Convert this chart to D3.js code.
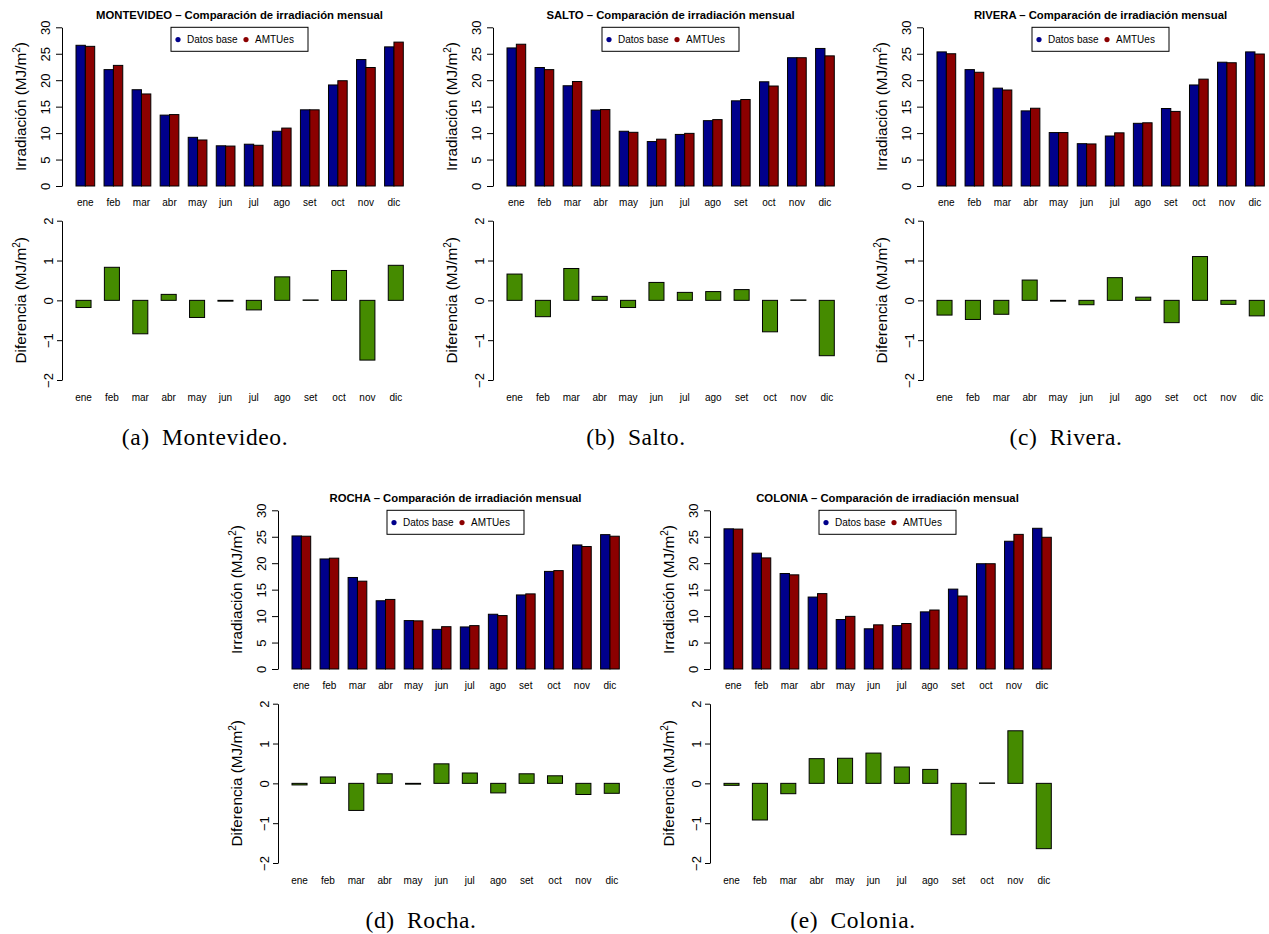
<!DOCTYPE html>
<html>
<head>
<meta charset="utf-8">
<script src="https://cdn.jsdelivr.net/npm/d3@7"></script>
<style>
  body { margin: 0; background: #fff; }
  text { font-family: "Liberation Sans", Arial, Helvetica, sans-serif; fill: #000; }
  .caption { font-family: "Liberation Serif", "DejaVu Serif", serif; font-size: 23.5px; letter-spacing: 0.6px; }
</style>
</head>
<body>
<div id="chart"></div>
<script>
// months and series (MJ/m2)
var months = ["ene", "feb", "mar", "abr", "may", "jun", "jul", "ago", "set", "oct", "nov", "dic"];
var seriesNames = ["Datos base", "AMTUes"];
var yTicksTop = [0, 5, 10, 15, 20, 25, 30];
var yTicksDiff = [-2, -1, 0, 1, 2];

var baseMontevideo = [26.6, 22.0, 18.2, 13.4, 9.2, 7.6, 7.9, 10.35, 14.4, 19.1, 23.9, 26.3];
var amtuMontevideo = [26.4, 22.8, 17.4, 13.5, 8.7, 7.55, 7.7, 10.95, 14.4, 19.9, 22.4, 27.2];
var diffMontevideo = [-0.18, 0.83, -0.84, 0.15, -0.43, -0.02, -0.24, 0.59, 0.01, 0.75, -1.5, 0.88];

var baseSalto = [26.1, 22.4, 18.95, 14.35, 10.35, 8.4, 9.75, 12.35, 16.1, 19.7, 24.25, 26.0];
var amtuSalto = [26.8, 22.0, 19.75, 14.45, 10.15, 8.85, 9.95, 12.55, 16.35, 18.9, 24.25, 24.6];
var diffSalto = [0.66, -0.41, 0.80, 0.10, -0.18, 0.45, 0.20, 0.22, 0.27, -0.79, 0.01, -1.39];

var baseRivera = [25.35, 22.0, 18.5, 14.2, 10.1, 8.0, 9.45, 11.85, 14.65, 19.1, 23.4, 25.35];
var amtuRivera = [25.0, 21.5, 18.15, 14.7, 10.1, 7.95, 10.05, 11.95, 14.1, 20.2, 23.3, 24.95];
var diffRivera = [-0.37, -0.48, -0.35, 0.51, -0.02, -0.11, 0.57, 0.08, -0.56, 1.10, -0.10, -0.39];

var baseRocha = [25.15, 20.8, 17.3, 12.9, 9.15, 7.5, 7.95, 10.35, 14.0, 18.45, 23.45, 25.4];
var amtuRocha = [25.1, 20.95, 16.6, 13.15, 9.1, 8.0, 8.2, 10.1, 14.2, 18.6, 23.15, 25.1];
var diffRocha = [-0.04, 0.16, -0.68, 0.24, -0.02, 0.49, 0.26, -0.24, 0.24, 0.19, -0.28, -0.25];

var baseColonia = [26.5, 21.9, 18.05, 13.6, 9.35, 7.6, 8.2, 10.8, 15.1, 19.9, 24.15, 26.6];
var amtuColonia = [26.45, 21.0, 17.8, 14.25, 9.95, 8.35, 8.6, 11.15, 13.8, 19.9, 25.45, 24.9];
var diffColonia = [-0.05, -0.92, -0.26, 0.62, 0.63, 0.76, 0.41, 0.35, -1.29, 0.01, 1.32, -1.64];

var panels = [
  {title: "MONTEVIDEO", caption: "(a)\u2002Montevideo.", base: baseMontevideo, amtu: amtuMontevideo, diff: diffMontevideo, dx: 0, dy: 0},
  {title: "SALTO", caption: "(b)\u2002Salto.", base: baseSalto, amtu: amtuSalto, diff: diffSalto, dx: 431, dy: 0},
  {title: "RIVERA", caption: "(c)\u2002Rivera.", base: baseRivera, amtu: amtuRivera, diff: diffRivera, dx: 861, dy: 0},
  {title: "ROCHA", caption: "(d)\u2002Rocha.", base: baseRocha, amtu: amtuRocha, diff: diffRocha, dx: 216, dy: 483},
  {title: "COLONIA", caption: "(e)\u2002Colonia.", base: baseColonia, amtu: amtuColonia, diff: diffColonia, dx: 648, dy: 483}
];

var colors = ["#00008B", "#8B0000"];
var diffColor = "#458B00";

var svg = d3.select("#chart").append("svg")
    .attr("width", 1269)
    .attr("height", 934);

// plot region inside each panel
var axisX = 62,
    barLeft = 76,
    barRight = 403.3,
    plotCenter = 239.5;

function yLabel(g, txt, x, y) {
  var t = g.append("text")
      .attr("transform", "translate(" + x + "," + y + ") rotate(-90)")
      .attr("text-anchor", "middle")
      .style("font-size", "15.3px");
  t.append("tspan").text(txt + " (MJ/m");
  t.append("tspan").attr("dy", -5.5).style("font-size", "10px").text("2");
  t.append("tspan").attr("dy", 5.5).text(")");
}

function styleAxis(ax, tickLen, labelOff) {
  ax.select(".domain").attr("stroke", "#000");
  ax.selectAll(".tick line").attr("stroke", "#000").attr("x2", -tickLen);
  ax.selectAll(".tick text")
      .attr("x", null).attr("dy", null)
      .attr("text-anchor", "middle")
      .attr("transform", "translate(" + (-labelOff) + ",0) rotate(-90)")
      .style("font-size", "13px")
      .style("font-family", "'Liberation Sans', Arial, sans-serif");
}

function drawPanel(p) {
  var g = svg.append("g").attr("transform", "translate(" + p.dx + "," + p.dy + ")");

  // ---- top: monthly irradiation ----
  var x0 = d3.scaleBand().domain(months).range([barLeft, barRight]).paddingInner(1 / 3).paddingOuter(0);
  var x1 = d3.scaleBand().domain(seriesNames).range([0, x0.bandwidth()]);
  var y = d3.scaleLinear().domain([0, 30]).range([186, 27.3]);

  var groups = g.selectAll(".month")
      .data(months)
    .enter().append("g")
      .attr("transform", function(d) { return "translate(" + x0(d) + ",0)"; });

  groups.selectAll("rect")
      .data(function(d, i) { return [p.base[i], p.amtu[i]]; })
    .enter().append("rect")
      .attr("x", function(d, j) { return x1(seriesNames[j]); })
      .attr("width", x1.bandwidth())
      .attr("y", function(d) { return y(d); })
      .attr("height", function(d) { return y(0) - y(d); })
      .attr("fill", function(d, j) { return colors[j]; })
      .attr("stroke", "#000")
      .attr("stroke-width", 1);

  g.selectAll(".lblTop")
      .data(months)
    .enter().append("text")
      .attr("x", function(d) { return x0(d) + x0.bandwidth() / 2; })
      .attr("y", 206)
      .attr("text-anchor", "middle")
      .style("font-size", "10px")
      .text(function(d) { return d; });

  var axTop = g.append("g")
      .attr("transform", "translate(" + axisX + ",0)")
      .call(d3.axisLeft(y).tickValues(yTicksTop).tickSizeOuter(0));
  styleAxis(axTop, 6, 12);

  yLabel(g, "Irradiación", 25.5, 106.5);

  g.append("text")
      .attr("x", plotCenter)
      .attr("y", 19)
      .attr("text-anchor", "middle")
      .style("font-size", "11.3px")
      .style("font-weight", "bold")
      .text(p.title + " \u2013 Comparación de irradiación mensual");

  // legend
  var lg = g.append("g").attr("transform", "translate(" + (plotCenter - 68.5) + ",27.3)");
  lg.append("rect").attr("width", 137).attr("height", 24)
      .attr("fill", "#fff").attr("stroke", "#000").attr("stroke-width", 1);
  var lgX = [7, 75];
  seriesNames.forEach(function(name, j) {
    lg.append("circle").attr("cx", lgX[j]).attr("cy", 12.3).attr("r", 2.6).attr("fill", colors[j]);
    lg.append("text").attr("x", lgX[j] + 9).attr("y", 15.8)
        .style("font-size", "10px").text(name);
  });

  // ---- bottom: difference ----
  var xd = d3.scaleBand().domain(months).range([barLeft, barRight]).paddingInner(0.47).paddingOuter(0);
  var yd = d3.scaleLinear().domain([-2, 2]).range([380, 220.7]);

  g.selectAll(".diff")
      .data(p.diff)
    .enter().append("rect")
      .attr("x", function(d, i) { return xd(months[i]); })
      .attr("width", xd.bandwidth())
      .attr("y", function(d) { return yd(Math.max(0, d)); })
      .attr("height", function(d) { return Math.abs(yd(d) - yd(0)); })
      .attr("fill", diffColor)
      .attr("stroke", "#000")
      .attr("stroke-width", 1);

  g.selectAll(".lblBot")
      .data(months)
    .enter().append("text")
      .attr("x", function(d) { return xd(d) + xd.bandwidth() / 2; })
      .attr("y", 401)
      .attr("text-anchor", "middle")
      .style("font-size", "10px")
      .text(function(d) { return d; });

  var axBot = g.append("g")
      .attr("transform", "translate(" + axisX + ",0)")
      .call(d3.axisLeft(yd).tickValues(yTicksDiff).tickSizeOuter(0)
        .tickFormat(function(d) { return d < 0 ? "\u2212" + (-d) : d; }));
  styleAxis(axBot, 5, 9);

  yLabel(g, "Diferencia", 25.5, 300.3);

  // subfigure caption
  g.append("text")
      .attr("class", "caption")
      .attr("x", 205)
      .attr("y", 445)
      .attr("text-anchor", "middle")
      .text(p.caption);
}

panels.forEach(drawPanel);
</script>
</body>
</html>
